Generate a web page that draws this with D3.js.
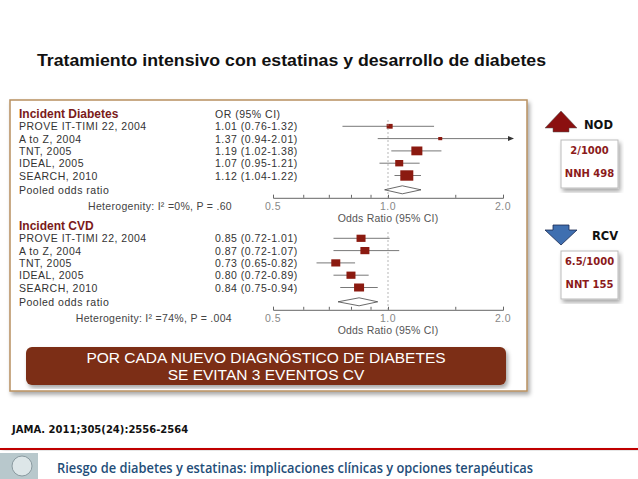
<!DOCTYPE html>
<html><head><meta charset="utf-8">
<script src="https://cdn.jsdelivr.net/npm/d3@7"></script>
<style>body{margin:0;background:#fff}svg{display:block}</style>
</head><body>
<script>
// data
var studies = ["PROVE IT-TIMI 22, 2004", "A to Z, 2004", "TNT, 2005", "IDEAL, 2005", "SEARCH, 2010"];
var diabOR = [1.01, 1.37, 1.19, 1.07, 1.12];
var diabLo = [0.76, 0.94, 1.02, 0.95, 1.04];
var diabHi = [1.32, 2.01, 1.38, 1.21, 1.22];
var diabW = [6, 4, 11, 8, 13];
var diabPool = [0.98, 1.09, 1.22];
var cvdOR = [0.85, 0.87, 0.73, 0.80, 0.84];
var cvdLo = [0.72, 0.72, 0.65, 0.72, 0.75];
var cvdHi = [1.01, 1.07, 0.82, 0.89, 0.94];
var cvdW = [9, 9, 9, 9, 10];
var cvdPool = [0.74, 0.84, 0.94];
var axisTicks = [0.5, 1.0, 2.0];

var W = 638, H = 479;
var svg = d3.select("body").append("svg").attr("width", W).attr("height", H)
  .style("font-family", "Liberation Sans, Arial, sans-serif");

var defs = svg.append("defs");
var f = defs.append("filter").attr("id", "sh").attr("x", "-5%").attr("y", "-5%").attr("width", "115%").attr("height", "115%");
f.append("feDropShadow").attr("dx", 2).attr("dy", 3).attr("stdDeviation", 2).attr("flood-opacity", 0.35);

svg.append("text").attr("x", 37).attr("y", 66).attr("font-size", 16.5).attr("font-weight", "bold")
  .attr("fill", "#111").attr("textLength", 509).attr("lengthAdjust", "spacingAndGlyphs")
  .text("Tratamiento intensivo con estatinas y desarrollo de diabetes");

// framed figure
svg.append("rect").attr("x", 10).attr("y", 100).attr("width", 517).attr("height", 291)
  .attr("fill", "#fff").attr("stroke", "#b89060").attr("stroke-width", 1.5).attr("filter", "url(#sh)");

var x = d3.scaleLog().domain([0.5, 2]).range([273, 503]);

function panel(title, top, or, lo, hi, w, pool, het) {
  var rows = d3.range(7).map(function(i) { return top + i * 12.3; });
  var g = svg.append("g").attr("font-size", 10.5).attr("fill", "#333").attr("letter-spacing", 0.5);
  g.append("text").attr("x", 19).attr("y", top + 4).attr("font-size", 12).attr("font-weight", "bold")
    .attr("letter-spacing", 0).attr("fill", "#7a1a1a").text(title);
  if (title === "Incident Diabetes")
    g.append("text").attr("x", 215).attr("y", top + 4).text("OR (95% CI)");
  studies.forEach(function(s, i) {
    var y = rows[i + 1];
    g.append("text").attr("x", 19).attr("y", y + 4).text(s);
    g.append("text").attr("x", 215).attr("y", y + 4)
      .text(or[i].toFixed(2) + " (" + lo[i].toFixed(2) + "-" + hi[i].toFixed(2) + ")");
    var xe = Math.min(x(hi[i]), 503);
    g.append("line").attr("x1", x(lo[i])).attr("x2", hi[i] > 2 ? 510 : xe).attr("y1", y).attr("y2", y)
      .attr("stroke", "#555").attr("stroke-width", 0.8);
    if (hi[i] > 2)
      g.append("path").attr("d", "M514," + y + "l-6,-2.5v5z").attr("fill", "#333");
    g.append("rect").attr("x", x(or[i]) - w[i] / 2).attr("y", y - w[i] * 0.4).attr("width", w[i]).attr("height", w[i] * 0.8)
      .attr("fill", "#8b1a10");
  });
  var yp = rows[6] + 2;
  g.append("text").attr("x", 19).attr("y", yp + 4).text("Pooled odds ratio");
  g.append("path").attr("d", "M" + x(pool[0]) + "," + yp + "L" + x(pool[1]) + "," + (yp - 4) + "L" + x(pool[2]) + "," + yp + "L" + x(pool[1]) + "," + (yp + 4) + "Z")
    .attr("fill", "#fff").attr("stroke", "#444").attr("stroke-width", 0.8);
  var ya = yp + 8;
  g.append("line").attr("x1", x(1)).attr("x2", x(1)).attr("y1", top + 6).attr("y2", ya)
    .attr("stroke", "#999").attr("stroke-dasharray", "2,2").attr("stroke-width", 0.7);
  var ax = g.append("g").attr("transform", "translate(0," + ya + ")")
    .call(d3.axisBottom(x).tickValues([0.5, 0.6, 0.7, 0.8, 0.9, 1, 1.5, 2]).tickSize(-3).tickFormat(""));
  ax.select(".domain").attr("stroke", "#666");
  ax.selectAll(".tick line").attr("stroke", "#666");
  axisTicks.forEach(function(t) {
    g.append("text").attr("x", x(t)).attr("y", ya + 12).attr("text-anchor", "middle").attr("fill", "#888").text(t.toFixed(1));
  });
  g.append("text").attr("x", 232).attr("y", ya + 12).attr("text-anchor", "end").attr("fill", "#444").attr("letter-spacing", 0.3).text(het);
  g.append("text").attr("x", x(1)).attr("y", ya + 24).attr("text-anchor", "middle").attr("fill", "#555").attr("letter-spacing", 0.2).text("Odds Ratio (95% CI)");
}
panel("Incident Diabetes", 114, diabOR, diabLo, diabHi, diabW, diabPool, "Heterogenity:  I\u00b2 =0%, P = .60");
panel("Incident CVD", 226, cvdOR, cvdLo, cvdHi, cvdW, cvdPool, "Heterogenity:  I\u00b2 =74%, P = .004");

// banner
svg.append("rect").attr("x", 26).attr("y", 347).attr("width", 480).attr("height", 38).attr("rx", 6)
  .attr("fill", "#7b2e14").attr("filter", "url(#sh)");
svg.append("text").attr("x", 266).attr("y", 363).attr("text-anchor", "middle").attr("font-size", 15.5).attr("fill", "#fff")
  .text("POR CADA NUEVO DIAGNÓSTICO DE DIABETES");
svg.append("text").attr("x", 266).attr("y", 380).attr("text-anchor", "middle").attr("font-size", 15.5).attr("fill", "#fff")
  .text("SE EVITAN 3 EVENTOS CV");

// side boxes
var side = svg.append("g").attr("font-family", "DejaVu Sans, Verdana, sans-serif").attr("font-weight", "bold");
side.append("path").attr("d", "M545,128 L561,111 L577,128 L569,128 L569,132 L553,132 L553,128 Z").attr("fill", "#8b1010").attr("stroke", "#555").attr("stroke-width", 0.5);
side.append("text").attr("x", 584).attr("y", 129).attr("font-size", 11.5).attr("fill", "#111").text("NOD");
side.append("path").attr("d", "M545,230 L553,230 L553,225 L569,225 L569,230 L577,230 L561,245 Z").attr("fill", "#3f6fb0").attr("stroke", "#1a2a50").attr("stroke-width", 0.8);
side.append("text").attr("x", 592).attr("y", 240).attr("font-size", 11.5).attr("fill", "#111").text("RCV");
[[140, "2/1000", "NNH 498"], [251, "6.5/1000", "NNT 155"]].forEach(function(b) {
  side.append("rect").attr("x", 561).attr("y", b[0]).attr("width", 57).attr("height", 48).attr("fill", "#fff")
    .attr("stroke", "#bbb").attr("filter", "url(#sh)");
  side.append("text").attr("x", 589.5).attr("y", b[0] + 14).attr("text-anchor", "middle").attr("font-size", 10).attr("fill", "#8b1a1a").text(b[1]);
  side.append("text").attr("x", 589.5).attr("y", b[0] + 37).attr("text-anchor", "middle").attr("font-size", 10).attr("fill", "#8b1a1a").text(b[2]);
});

// footer
svg.append("text").attr("x", 12).attr("y", 433).attr("font-size", 10).attr("font-weight", "bold")
  .attr("font-family", "DejaVu Sans, sans-serif").attr("fill", "#111").text("JAMA. 2011;305(24):2556-2564");
svg.append("rect").attr("x", 0).attr("y", 448).attr("width", W).attr("height", 2).attr("fill", "#c00000").attr("filter", "url(#sh)");
svg.append("rect").attr("x", 0).attr("y", 453).attr("width", 38).attr("height", 26).attr("fill", "#b8c8cc");
svg.append("circle").attr("cx", 22).attr("cy", 466).attr("r", 10).attr("fill", "#dde6e8").attr("stroke", "#8a9aa0");
svg.append("text").attr("x", 57).attr("y", 473).attr("font-size", 14).attr("font-weight", 600).attr("fill", "#1f4e79")
  .attr("font-family", "Open Sans, sans-serif").attr("textLength", 476).attr("lengthAdjust", "spacingAndGlyphs")
  .text("Riesgo de diabetes y estatinas: implicaciones clínicas y opciones terapéuticas");
</script>
</body></html>
